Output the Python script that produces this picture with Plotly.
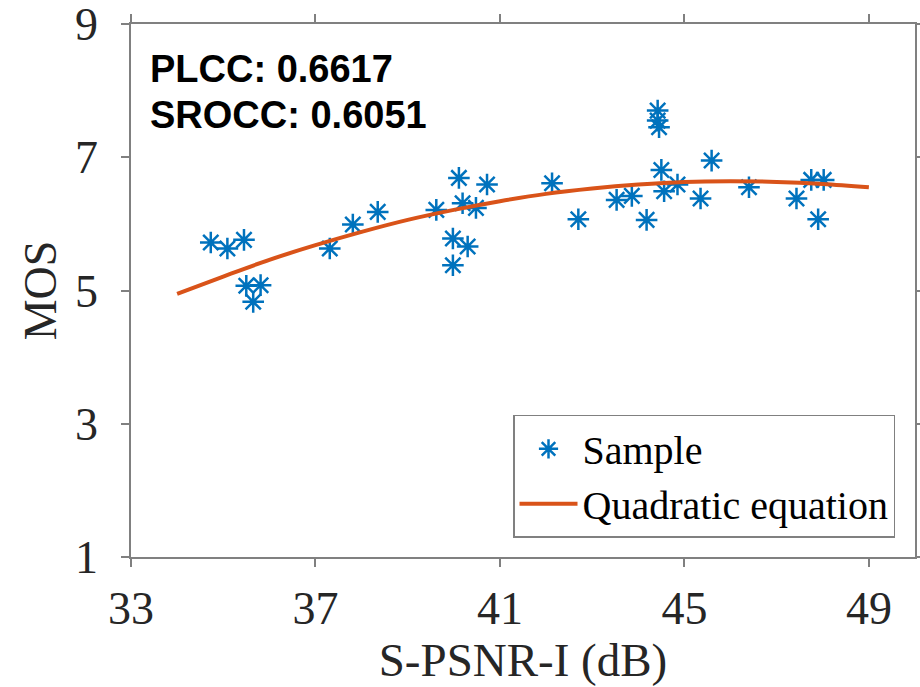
import plotly.graph_objects as go

# Sample points
sample_x = [34.73, 35.09, 35.45, 35.50, 35.81, 35.65, 37.31, 37.81, 38.35,
            39.62, 40.11, 39.98, 40.30, 39.98, 40.19, 40.48, 40.72,
            42.13, 42.70, 43.53, 43.86, 44.18, 44.42, 44.42, 44.45,
            44.50, 44.56, 44.85, 45.59, 45.35, 46.40, 47.43, 47.75, 48.02, 47.90]
sample_y = [5.72, 5.63, 5.76, 5.07, 5.08, 4.83, 5.63, 5.99, 6.18,
            6.21, 6.69, 5.78, 5.66, 5.38, 6.31, 6.24, 6.59,
            6.61, 6.07, 6.36, 6.42, 6.06, 7.70, 7.55, 7.45,
            6.81, 6.49, 6.59, 6.95, 6.38, 6.55, 6.38, 6.66, 6.66, 6.07]

# Fitted curve
curve_x = [34, 35, 36, 37, 38, 39, 40, 41, 42, 43, 44, 45, 46, 47, 48, 49]
curve_y = [4.95, 5.21, 5.46, 5.68, 5.88, 6.06, 6.21, 6.34, 6.45, 6.53,
           6.59, 6.63, 6.64, 6.63, 6.60, 6.55]

x_ticks = [33, 37, 41, 45, 49]
y_ticks = [1, 3, 5, 7, 9]
stats_text = ["PLCC: 0.6617", "SROCC: 0.6051"]

serif = "Liberation Serif"
tick_color = "#262626"
frame_color = "#808080"

fig = go.Figure()
fig.add_trace(go.Scatter(
    x=sample_x, y=sample_y, mode="markers", name="Sample",
    marker=dict(symbol="asterisk-open", size=18, color="#0072BD",
                line=dict(color="#0072BD", width=2.5)),
))
fig.add_trace(go.Scatter(
    x=curve_x, y=curve_y, mode="lines", name="Quadratic equation",
    line=dict(color="#D95319", width=4, shape="spline"),
))

axis_common = dict(
    showgrid=False, zeroline=False, showline=True, mirror="ticks",
    linecolor=frame_color, linewidth=1.5, ticks="outside", ticklen=8,
    tickcolor=frame_color, tickwidth=1.5, ticklabeloverflow="allow",
    automargin=False,
    tickfont=dict(family=serif, size=46, color=tick_color),
)

fig.update_xaxes(range=[33, 50], tickvals=x_ticks, ticktext=[str(v) for v in x_ticks],
                 title=dict(text="S-PSNR-I (dB)", font=dict(family=serif, size=47, color=tick_color),
                            standoff=0),
                 ticklabelstandoff=2, **axis_common)
fig.update_yaxes(range=[1, 9], tickvals=y_ticks, ticktext=[str(v) for v in y_ticks],
                 title=dict(text="MOS", font=dict(family=serif, size=46, color=tick_color),
                            standoff=4),
                 ticklabelstandoff=14, **axis_common)

for i, (txt, yy) in enumerate(zip(stats_text, [0.9156, 0.830])):
    fig.add_annotation(text="<b>%s</b>" % txt, xref="paper", yref="paper",
                       x=0.0217, y=yy, xanchor="left", yanchor="middle",
                       showarrow=False,
                       font=dict(family="Liberation Sans", size=38, color="black"))

fig.update_layout(
    width=920, height=687,
    margin=dict(l=131, r=5, t=24, b=130, autoexpand=False),
    paper_bgcolor="white", plot_bgcolor="white",
    showlegend=True,
    legend=dict(x=0.9745, y=0.036, xanchor="right", yanchor="bottom",
                bgcolor="white", bordercolor=frame_color, borderwidth=1.5,
                font=dict(family=serif, size=40, color="black"),
                itemwidth=58, tracegroupgap=0),
)

fig.write_html("out.html")
